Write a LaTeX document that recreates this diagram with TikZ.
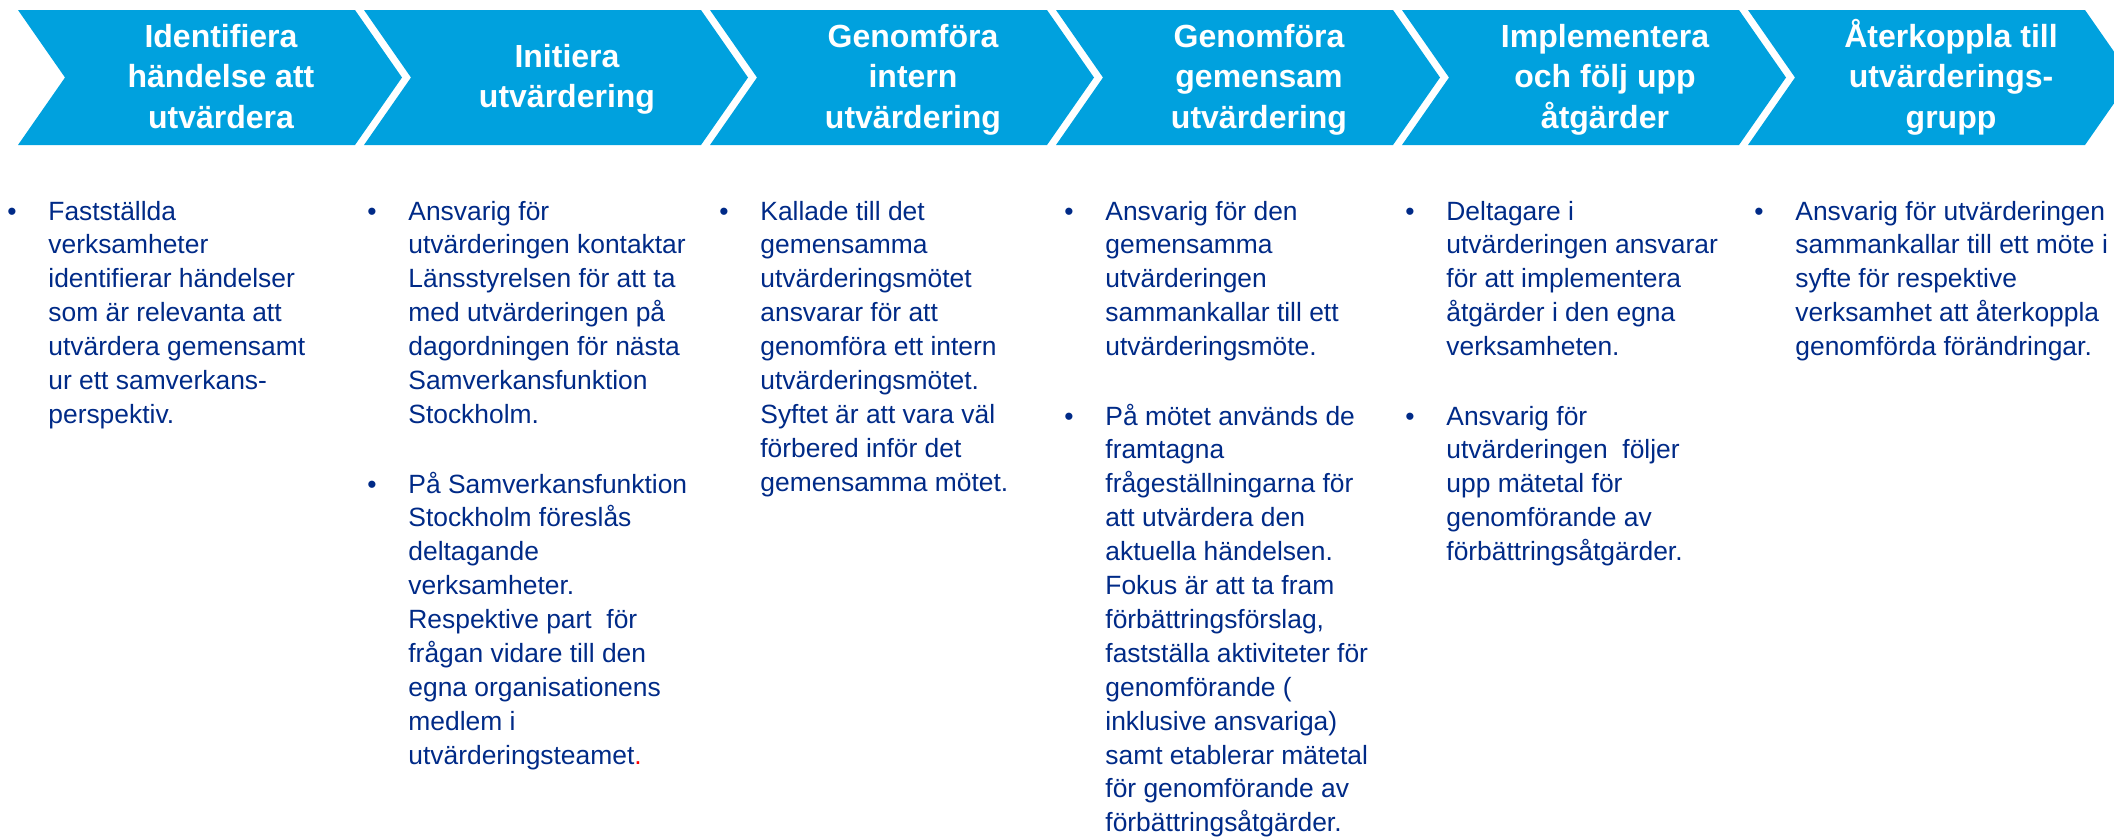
\documentclass[tikz,border=0pt]{standalone}
\usepackage{fontspec}
\setmainfont{Liberation Sans}
\definecolor{chevblue}{RGB}{0,161,222}
\definecolor{navy}{RGB}{0,42,135}
\newcommand{\bodyfnt}{\fontsize{13.2pt}{16.95pt}\selectfont}
\newcommand{\headfnt}{\fontsize{16pt}{20.25pt}\selectfont\bfseries}
\newcommand{\hd}[1]{\parbox[t]{165pt}{\centering #1}}
\newcommand{\bd}[1]{\parbox[t]{180pt}{\raggedright #1}}
\begin{document}
\begin{tikzpicture}[x=0.5pt,y=-0.5pt,
  head/.style={anchor=base, inner sep=0pt, text=white, font=\headfnt},
  body/.style={anchor=base west, inner sep=0pt, text=navy, font=\bodyfnt},
  bul/.style={anchor=base, inner sep=0pt, text=navy, font=\bodyfnt}]
\useasboundingbox (0,0) rectangle (2114,837);
\clip (0,0) rectangle (2114,837);
% chevrons
\foreach \i in {0,...,5}{
  \pgfmathsetmacro{\L}{18+346*\i}
  \fill[chevblue] (\L,10) -- ++(337,0) -- ++(47,67.5) -- ++(-47,67.5) -- ++(-337,0) -- ++(47,-67.5) -- cycle;
}
% headings
\node[head] (h1) at (221,47) {\hd{Identifiera\\händelse att\\utvärdera}};
\node[head] (h2) at (567,67) {\hd{Initiera\\utvärdering}};
\node[head] (h3) at (913,47) {\hd{Genomföra\\intern\\utvärdering}};
\node[head] (h4) at (1259,47) {\hd{Genomföra\\gemensam\\utvärdering}};
\node[head] (h5) at (1605,47) {\hd{Implementera\\och följ upp\\åtgärder}};
\node[head] (h6) at (1951,47) {\hd{Återkoppla till\\utvärderings-\\grupp}};
% column 1
\node[bul] (b1) at (12,220) {•};
\node[body] (t1) at (48,220) {\bd{Fastställda\\verksamheter\\identifierar händelser\\som är relevanta att\\utvärdera gemensamt\\ur ett samverkans-\\perspektiv.}};
% column 2
\node[bul] (b2a) at (372,220) {•};
\node[body] (t2a) at (408,220) {\bd{Ansvarig för\\utvärderingen kontaktar\\Länsstyrelsen för att ta\\med utvärderingen på\\dagordningen för nästa\\Samverkansfunktion\\Stockholm.}};
\node[bul] (b2b) at (372,493) {•};
\node[body] (t2b) at (408,493) {\bd{På Samverkansfunktion\\Stockholm föreslås\\deltagande\\verksamheter.\\Respektive part\ \ för\\frågan vidare till den\\egna organisationens\\medlem i\\utvärderingsteamet{\color{red}.}}};
% column 3
\node[bul] (b3) at (724,220) {•};
\node[body] (t3) at (760,220) {\bd{Kallade till det\\gemensamma\\utvärderingsmötet\\ansvarar för att\\genomföra ett intern\\utvärderingsmötet.\\Syftet är att vara väl\\förbered inför det\\gemensamma mötet.}};
% column 4
\node[bul] (b4a) at (1069,220) {•};
\node[body] (t4a) at (1105,220) {\bd{Ansvarig för den\\gemensamma\\utvärderingen\\sammankallar till ett\\utvärderingsmöte.}};
\node[bul] (b4b) at (1069,425) {•};
\node[body] (t4b) at (1105,425) {\bd{På mötet används de\\framtagna\\frågeställningarna för\\att utvärdera den\\aktuella händelsen.\\Fokus är att ta fram\\förbättringsförslag,\\fastställa aktiviteter för\\genomförande (\\inklusive ansvariga)\\samt etablerar mätetal\\för genomförande av\\förbättringsåtgärder.}};
% column 5
\node[bul] (b5a) at (1410,220) {•};
\node[body] (t5a) at (1446,220) {\bd{Deltagare i\\utvärderingen ansvarar\\för att implementera\\åtgärder i den egna\\verksamheten.}};
\node[bul] (b5b) at (1410,425) {•};
\node[body] (t5b) at (1446,425) {\bd{Ansvarig för\\utvärderingen\ \ följer\\upp mätetal för\\genomförande av\\förbättringsåtgärder.}};
% column 6
\node[bul] (b6) at (1759,220) {•};
\node[body] (t6) at (1795,220) {\bd{Ansvarig för utvärderingen\\sammankallar till ett möte i\\syfte för respektive\\verksamhet att återkoppla\\genomförda förändringar.}};
\end{tikzpicture}
\end{document}
